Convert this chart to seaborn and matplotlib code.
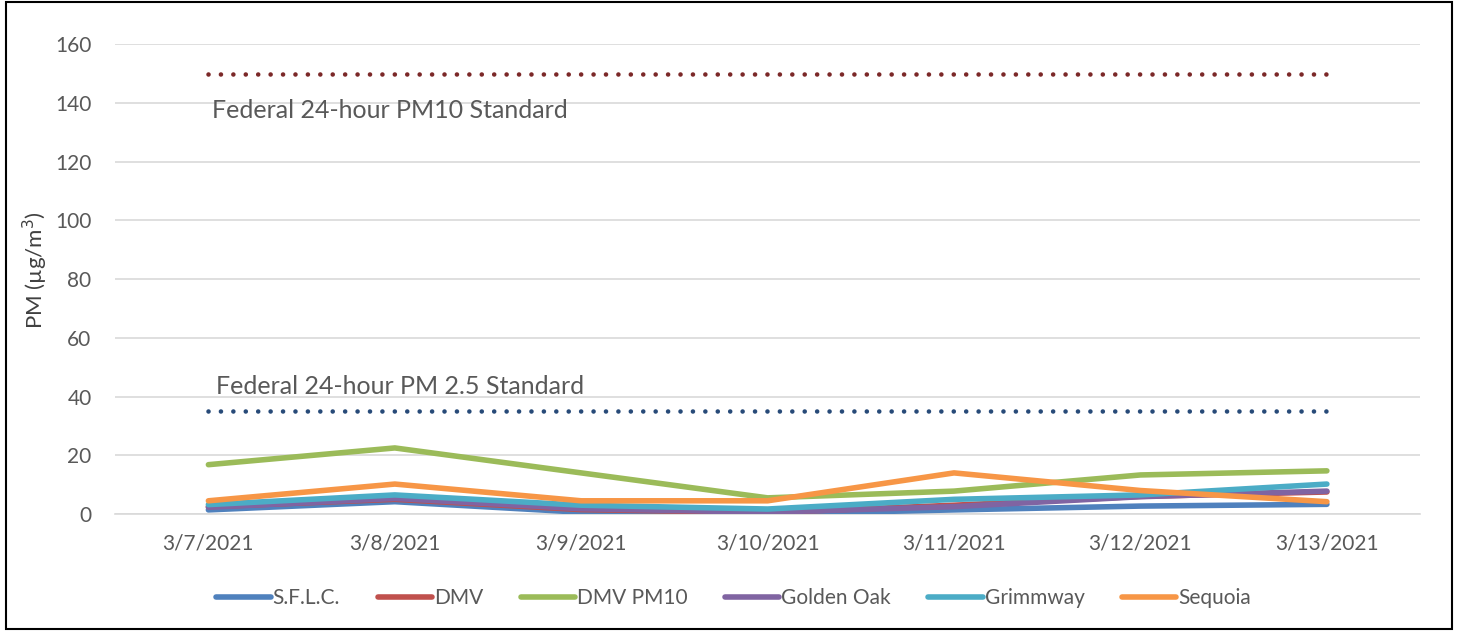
import pandas as pd
import numpy as np
import matplotlib.pyplot as plt
import seaborn as sns

dates = ["3/7/2021", "3/8/2021", "3/9/2021", "3/10/2021", "3/11/2021", "3/12/2021", "3/13/2021"]
sflc = [1.4, 4.2, 0.6, 0.0, 1.4, 2.7, 3.3]
dmv = [2.5, 5.0, 1.5, 0.5, 3.0, 6.0, 7.5]
dmv_pm10 = [16.8, 22.5, 14.0, 5.5, 7.8, 13.3, 14.7]
golden_oak = [2.3, 5.3, 1.8, 0.6, 2.5, 5.9, 7.8]
grimmway = [3.2, 6.5, 3.0, 1.7, 5.0, 6.5, 10.2]
sequoia = [4.5, 10.2, 4.5, 4.5, 14.0, 8.0, 4.2]
pm10_std = 150
pm25_std = 35

series = ["S.F.L.C.", "DMV", "DMV PM10", "Golden Oak", "Grimmway", "Sequoia"]
colors = ["#4F81BD", "#C0504D", "#9BBB59", "#8064A2", "#4BACC6", "#F79646"]

df = pd.DataFrame({"date": dates * 6,
                   "site": np.repeat(series, len(dates)),
                   "pm": sflc + dmv + dmv_pm10 + golden_oak + grimmway + sequoia})
df["x"] = df["date"].map({d: i for i, d in enumerate(dates)})

sns.set_style("white")
plt.rcParams["font.family"] = ["Lato", "DejaVu Sans"]

fig = plt.figure(figsize=(14.58, 6.31), dpi=100)
ax = fig.add_axes([0.079, 0.1854, 0.895, 0.7446])

# standards as dotted lines
xs = np.arange(len(dates))
ax.plot(xs, [pm10_std] * len(dates), color="#7B2828", lw=3.3, ls=(0, (0.01, 2.7)),
        dash_capstyle="round", zorder=3)
ax.plot(xs, [pm25_std] * len(dates), color="#274A78", lw=3.3, ls=(0, (0.01, 2.7)),
        dash_capstyle="round", zorder=3)

sns.lineplot(data=df, x="x", y="pm", hue="site", palette=colors, hue_order=series,
             lw=4.0, ax=ax, legend=True, zorder=4)
for ln in ax.get_lines()[2:]:
    ln.set_solid_capstyle("round")

ax.text(0.02, 135, "Federal 24-hour PM10 Standard", fontsize=18, color="#595959")
ax.text(0.04, 40.8, "Federal 24-hour PM 2.5 Standard", fontsize=18, color="#595959")

ax.set_xlim(-0.5, len(dates) - 0.5)
ax.set_ylim(0, 160)
ax.set_yticks(range(0, 161, 20))
ax.set_xticks(xs)
ax.set_xticklabels(dates)
ax.set_xticks(np.arange(-0.5, len(dates), 1), minor=True)
ax.tick_params(axis="x", which="major", length=0, pad=14, labelsize=15, labelcolor="#595959")
ax.tick_params(axis="x", which="minor", length=7, color="#D9D9D9", width=1.2)
ax.tick_params(axis="y", length=0, pad=17, labelsize=15, labelcolor="#595959")
ax.yaxis.grid(True, color="#D9D9D9", lw=1.2)
ax.set_axisbelow(True)
for s in ["top", "right", "left"]:
    ax.spines[s].set_visible(False)
ax.spines["bottom"].set_color("#D9D9D9")
ax.spines["bottom"].set_linewidth(1.2)
ax.set_xlabel("")
ax.set_ylabel("PM (µg/m$^3$)", fontsize=16, color="#404040")
ax.yaxis.set_label_coords(-0.05, 0.52)

handles, labels = ax.get_legend_handles_labels()
ax.legend(handles, labels, loc="upper center", bbox_to_anchor=(0.474, -0.118), ncol=6,
          frameon=False, fontsize=15, handlelength=2.6, handletextpad=0.1,
          columnspacing=1.8, labelcolor="#595959")

fig.patches.append(plt.Rectangle((0.004, 0.003), 0.992, 0.994, transform=fig.transFigure,
                                 fill=False, edgecolor="black", lw=1.5))
fig.savefig("out.png", dpi=100)
